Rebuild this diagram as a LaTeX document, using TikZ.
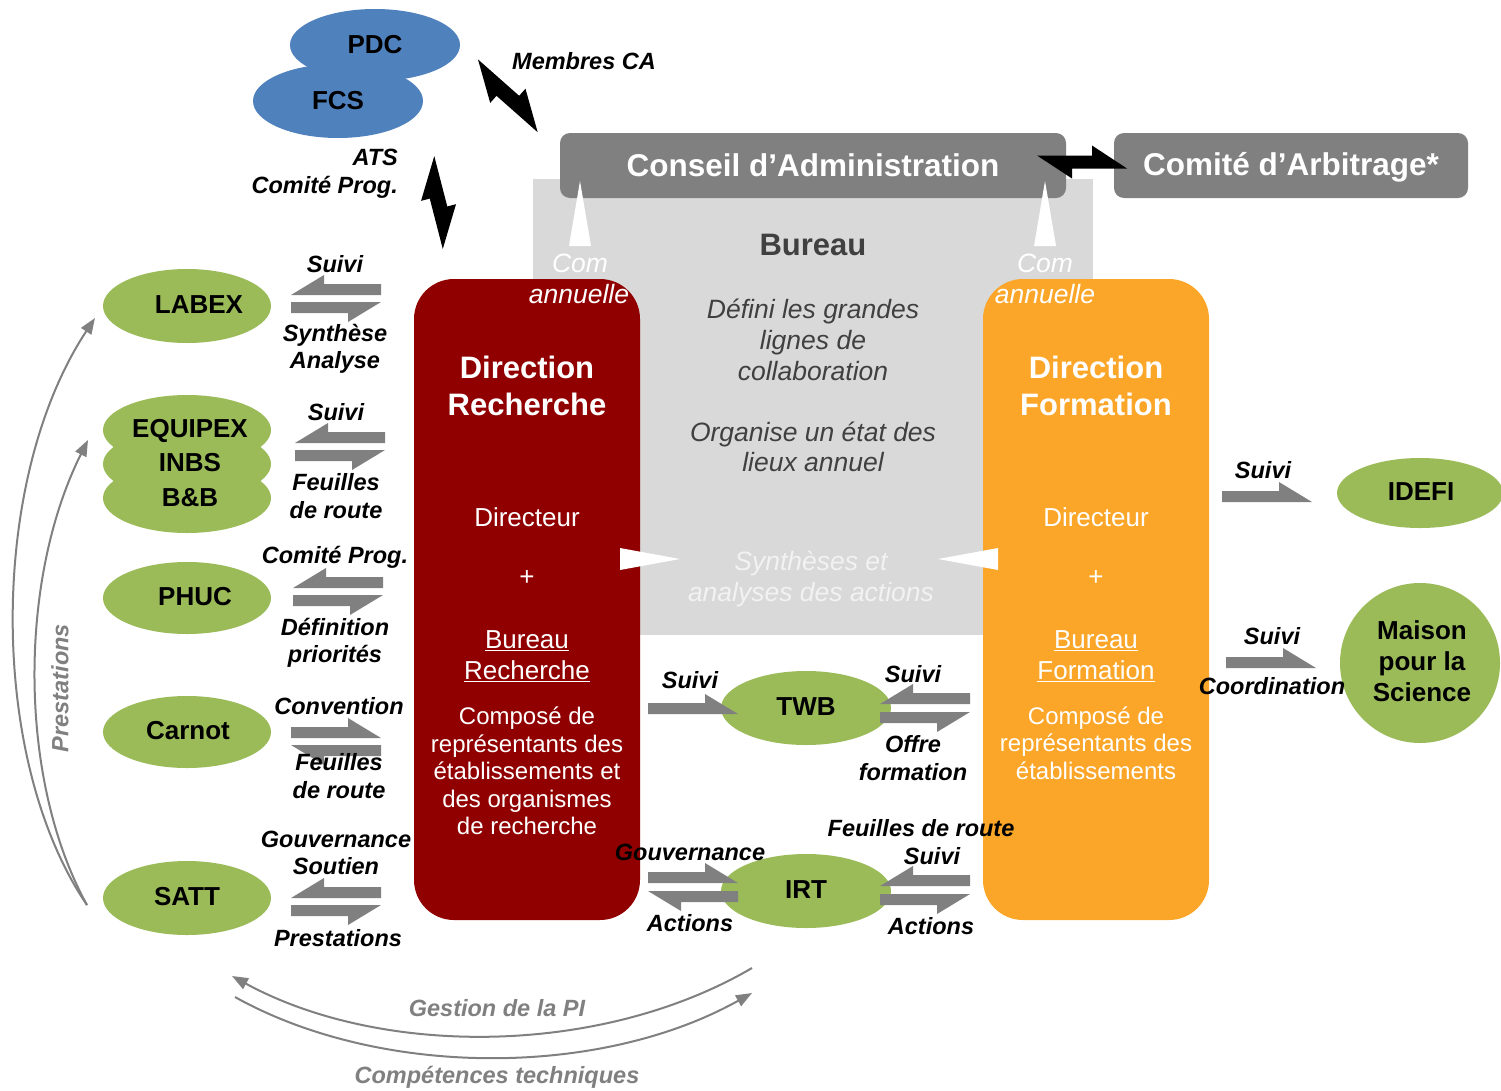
\documentclass[tikz,border=0pt]{standalone}
\usepackage{fontspec}
\setmainfont{Liberation Sans}
\usetikzlibrary{shapes.geometric,arrows.meta}
\definecolor{cgreen}{RGB}{155,187,89}
\definecolor{cblue}{RGB}{79,129,189}
\definecolor{cred}{RGB}{145,0,0}
\definecolor{corange}{RGB}{251,166,40}
\definecolor{cgrey}{RGB}{128,128,128}
\definecolor{clgrey}{RGB}{217,217,217}
\definecolor{cdark}{RGB}{64,64,64}
\definecolor{cpale}{RGB}{242,242,242}
\tikzset{
  lbl/.style={font=\fontsize{23.5}{28}\selectfont\bfseries\itshape, align=center, inner sep=0pt},
  glbl/.style={lbl, text=cgrey},
  ell/.style={ellipse, fill=cgreen, minimum width=168, minimum height=72, inner sep=0pt},
  bell/.style={ellipse, fill=cblue, minimum width=170, minimum height=72, inner sep=0pt},
  etext/.style={font=\fontsize{26}{31}\selectfont\bfseries, align=center, inner sep=0pt},
  txtw/.style={text=white, align=center, inner sep=0pt},
  btxt/.style={text=cdark, align=center, inner sep=0pt, font=\fontsize{26.5}{31}\selectfont\itshape},
  thinarrow/.style={draw=cgrey, line width=2pt, -{Triangle[length=16pt,width=12pt]}},
  harpRb/.pic={\fill[cgrey] (0,0) -- (90,0) -- (57,20) -- (57,11) -- (0,11) -- cycle;},
  harpLa/.pic={\fill[cgrey] (0,11) -- (33,-9) -- (33,0) -- (90,0) -- (90,11) -- cycle;},
  harpRa/.pic={\fill[cgrey] (0,0) -- (57,0) -- (57,-9) -- (90,11) -- (0,11) -- cycle;},
  harpLb/.pic={\fill[cgrey] (0,0) -- (90,0) -- (90,11) -- (33,11) -- (33,20) -- cycle;},
}
\begin{document}
\begin{tikzpicture}[x=1pt,y=-1pt]
\useasboundingbox (0,0) rectangle (1501,1090);
\fill[white] (0,0) rectangle (1501,1090);

% Bureau background
\node[fill=clgrey, minimum width=560, minimum height=456, inner sep=0pt] (bureau) at (813,407) {};
% Conseil and Comite
\node[fill=cgrey, rounded corners=10, minimum width=506, minimum height=65, inner sep=0pt,
      text=white, font=\fontsize{31.5}{36}\selectfont\bfseries] (ca) at (813,165.5) {Conseil d’Administration};
\node[fill=cgrey, rounded corners=10, minimum width=354, minimum height=65, inner sep=0pt] (carb) at (1291,165.5) {};
\node[text=white, inner sep=0pt, font=\fontsize{31.5}{36}\selectfont\bfseries] (carbT) at (1291,167) {Comité d’Arbitrage*};

% Direction boxes
\node[fill=cred, rounded corners=40, minimum width=226, minimum height=641, inner sep=0pt] (dirR) at (527,599.5) {};
\node[fill=corange, rounded corners=40, minimum width=226, minimum height=641, inner sep=0pt] (dirF) at (1096,599.5) {};

% white triangles
\fill[white] (569,246) -- (580,181) -- (591,246) -- cycle;
\fill[white] (1034,246) -- (1045,181) -- (1056,246) -- cycle;
\fill[white] (620,548) -- (680,559) -- (620,570) -- cycle;
\fill[white] (998,548) -- (938,559) -- (998,570) -- cycle;

% Com annuelle
\node[txtw, font=\fontsize{26.5}{30}\selectfont\itshape] (com1) at (580,263) {Com};
\node[txtw, font=\fontsize{26.5}{30}\selectfont\itshape] (ann1) at (579,294) {annuelle};
\node[txtw, font=\fontsize{26.5}{30}\selectfont\itshape] (com2) at (1045,263) {Com};
\node[txtw, font=\fontsize{26.5}{30}\selectfont\itshape] (ann2) at (1045,294) {annuelle};

% Bureau texts
\node[text=cdark, inner sep=0pt, font=\fontsize{31}{36}\selectfont\bfseries] (bT) at (813,245) {Bureau};
\node[btxt] (b1) at (813,340) {Défini les grandes\\lignes de\\collaboration};
\node[btxt, font=\fontsize{26.5}{30}\selectfont\itshape] (b2) at (813,447) {Organise un état des\\lieux annuel};
\node[btxt, text=cpale] (b3) at (811,579) {Synthèses et\\analyses des actions};

% Direction Recherche texts
\node[txtw, font=\fontsize{31}{37}\selectfont\bfseries] (drT) at (527,386) {Direction\\Recherche};
\node[txtw, font=\fontsize{26}{30}\selectfont] (drD) at (527,517) {Directeur};
\node[txtw, font=\fontsize{26}{30}\selectfont] (drP) at (527,578) {+};
\node[txtw, font=\fontsize{26}{31}\selectfont] (drB) at (527,656) {\underline{Bureau}\\\underline{Recherche}};
\node[txtw, font=\fontsize{24}{27.5}\selectfont] (drC) at (527,771) {Composé de\\représentants des\\établissements et\\des organismes\\de recherche};

% Direction Formation texts
\node[txtw, font=\fontsize{31}{37}\selectfont\bfseries] (dfT) at (1096,386) {Direction\\Formation};
\node[txtw, font=\fontsize{26}{30}\selectfont] (dfD) at (1096,517) {Directeur};
\node[txtw, font=\fontsize{26}{30}\selectfont] (dfP) at (1096,578) {+};
\node[txtw, font=\fontsize{26}{31}\selectfont] (dfB) at (1096,656) {\underline{Bureau}\\\underline{Formation}};
\node[txtw, font=\fontsize{24}{27.5}\selectfont] (dfC) at (1096,743) {Composé de\\représentants des\\établissements};

% PDC / FCS
\node[bell] (pdc) at (375,45) {};
\node[etext] (pdcT) at (375,45) {PDC};
\node[bell, minimum height=74] (fcs) at (338,101) {};
\node[etext] (fcsT) at (338,101) {FCS};

% left green ellipses
\node[ell, minimum height=74] (labex) at (187,306) {};
\node[etext] (labexT) at (199,305) {LABEX};
\node[ell, minimum height=70] (eq1) at (187,430) {};
\node[ell, minimum height=70] (eq2) at (187,464) {};
\node[ell, minimum height=70] (eq3) at (187,498) {};
\node[etext, font=\fontsize{26}{34.5}\selectfont\bfseries] (eqT) at (190,463) {EQUIPEX\\INBS\\B\&B};
\node[ell] (phuc) at (187,598) {};
\node[etext] (phucT) at (195,597) {PHUC};
\node[ell] (carnot) at (187,732) {};
\node[etext] (carnotT) at (188,731) {Carnot};
\node[ell, minimum height=74] (satt) at (187,898) {};
\node[etext] (sattT) at (187,897) {SATT};

% TWB / IRT
\node[ell, minimum width=170, minimum height=74] (twb) at (806,708) {};
\node[etext] (twbT) at (806,707) {TWB};
\node[ell, minimum width=170, minimum height=74] (irt) at (806,891) {};
\node[etext] (irtT) at (806,890) {IRT};

% right
\node[ell, minimum width=166, minimum height=70] (idefi) at (1420,493) {};
\node[etext] (idefiT) at (1421,492) {IDEFI};
\node[circle, fill=cgreen, minimum size=160, inner sep=0pt] (mps) at (1420,663) {};
\node[etext] (mpsT) at (1422,661) {Maison\\pour la\\Science};

% black bolts
\begin{scope}[shift={(473,65)}, rotate=-41.5]
\fill[black] (0,-7.5) -- (38,17) -- (38,7.5) -- (93,7.5) -- (55,-17) -- (55,-7.5) -- cycle;
\end{scope}
\begin{scope}[shift={(427,158)}, rotate=-75.5]
\fill[black] (0,-7.5) -- (40,16.5) -- (40,7.5) -- (92,7.5) -- (52,-16.5) -- (52,-7.5) -- cycle;
\end{scope}
\begin{scope}[shift={(1037,162)}]
\fill[black] (0,-6.5) -- (35,16.5) -- (35,6.5) -- (90,6.5) -- (55,-16.5) -- (55,-6.5) -- cycle;
\end{scope}

% labels top
\node[lbl] (mca) at (584,61) {Membres CA};
\node[lbl, anchor=east, align=right] (ats) at (398,174) {ATS\\Comité Prog.};

% grey harpoon arrows, left column
\pic at (291,284) {harpLa};
\pic at (291,302) {harpRb};
\pic at (295,432) {harpLa};
\pic at (295,450) {harpRb};
\pic at (293,577) {harpLa};
\pic at (293,595) {harpRb};
\pic at (291,727) {harpRa};
\pic at (291,745) {harpLb};
\pic at (291,887) {harpLa};
\pic at (291,905) {harpRb};
% TWB / IRT
\pic at (648,703) {harpRa};
\pic at (880,693) {harpLa};
\pic at (880,712) {harpRb};
\pic at (648,872) {harpRa};
\pic at (648,891) {harpLb};
\pic at (880,875) {harpLa};
\pic at (880,894) {harpRb};
% right
\pic at (1222,491) {harpRa};
\pic at (1226,657) {harpRa};

% labels of arrows
\node[lbl] (l1) at (335,264) {Suivi};
\node[lbl, font=\fontsize{23.5}{27}\selectfont\bfseries\itshape] (l2) at (335,349) {Synthèse\\Analyse};
\node[lbl] (l3) at (336,412) {Suivi};
\node[lbl] (l4) at (336,496) {Feuilles\\de route};
\node[lbl] (l5) at (335,557) {Comité Prog.};
\node[lbl, font=\fontsize{23.5}{27}\selectfont\bfseries\itshape] (l6) at (335,643) {Définition\\priorités};
\node[lbl] (l7) at (339,706) {Convention};
\node[lbl] (l8) at (339,776) {Feuilles\\de route};
\node[lbl, font=\fontsize{23.5}{27}\selectfont\bfseries\itshape] (l9) at (336,853) {Gouvernance\\Soutien};
\node[lbl] (l10) at (338,938) {Prestations};
\node[lbl] (l11) at (690,680) {Suivi};
\node[lbl] (l12) at (913,674) {Suivi};
\node[lbl] (l13) at (913,758) {Offre\\formation};
\node[lbl] (l14) at (690,852) {Gouvernance};
\node[lbl] (l15) at (690,923) {Actions};
\node[lbl] (l16) at (921,828) {Feuilles de route};
\node[lbl] (l17) at (932,856) {Suivi};
\node[lbl] (l18) at (931,926) {Actions};
\node[lbl] (l19) at (1263,470) {Suivi};
\node[lbl] (l20) at (1272,636) {Suivi};
\node[lbl] (l21) at (1272,686) {Coordination};

% thin grey arrows
\coordinate (pS) at (87,905);
\coordinate (pE1) at (95,318);
\coordinate (pE2) at (88,440);
\draw[thinarrow] (pS) .. controls (-12,760) and (-12,480) .. (pE1);
\draw[thinarrow] (pS) .. controls (18,780) and (18,580) .. (pE2);
\node[glbl, rotate=90] (prest) at (60,688) {Prestations};

\coordinate (gA) at (752,968);
\coordinate (gB) at (232,976);
\coordinate (cA) at (235,997);
\coordinate (cB) at (752,993);
\draw[thinarrow] (gA) .. controls (600,1057) and (380,1057) .. (gB);
\draw[thinarrow] (cA) .. controls (380,1078) and (600,1078) .. (cB);
\node[glbl] (gpi) at (497,1008) {Gestion de la PI};
\node[glbl] (ctech) at (497,1077) {Compétences techniques};
\end{tikzpicture}
\end{document}
